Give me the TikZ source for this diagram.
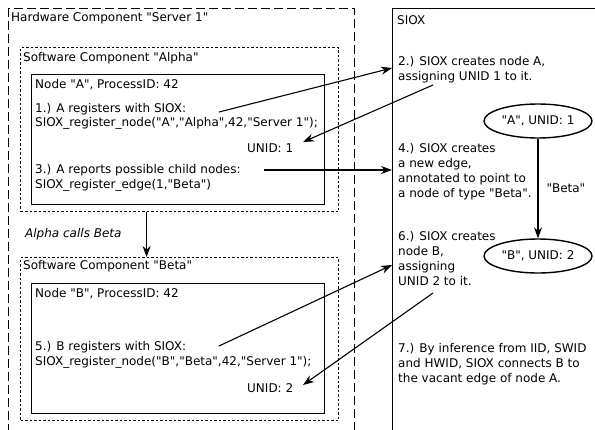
\documentclass[tikz,border=0pt]{standalone}
\usepackage{fontspec}
\setmainfont{DejaVu Sans}[Ligatures=TeXOff]
\usetikzlibrary{arrows.meta,calc,shapes.geometric}

\begin{document}
\begin{tikzpicture}[x=1pt,y=-1pt,
  font=\fontsize{12}{15}\selectfont,
  txt/.style={inner sep=0pt, anchor=base west},
  para/.style={inner sep=0pt, anchor=north west, align=left},
  hwbox/.style={draw, line width=1.4pt, dash pattern=on 9pt off 4pt, anchor=north west},
  swbox/.style={draw, line width=1.2pt, dash pattern=on 2.5pt off 2pt, anchor=north west},
  procbox/.style={draw, line width=1.4pt, anchor=north west},
  msg/.style={draw, line width=1.1pt, -{Stealth[length=11pt,width=8pt]}},
  graphnode/.style={draw, ellipse, line width=1.4pt, minimum width=108pt, minimum height=34pt, inner sep=0pt},
]
\clip (0,0) rectangle (595,429);
\fill[white] (0,0) rectangle (595,429);

% hardware, software components and processes
\node[hwbox, minimum width=346pt, minimum height=440pt] (hw) at (8,8) {};
\node[swbox, minimum width=318pt, minimum height=164pt] (alpha) at (20,47) {};
\node[procbox, minimum width=293pt, minimum height=130pt] (procA) at (31,74) {};
\node[swbox, minimum width=318pt, minimum height=163pt] (beta) at (20,257) {};
\node[procbox, minimum width=293pt, minimum height=130pt] (procB) at (31,283) {};
\node[procbox, minimum width=240pt, minimum height=440pt] (siox) at (392,8) {};

% labels of the left side
\node[txt] (hwlabel) at (11,21.5) {Hardware Component "Server 1"};
\node[txt] (alphalabel) at (23,61.5) {Software Component "Alpha"};
\node[txt] (nodeA) at (35,88) {Node "A", ProcessID: 42};
\node[txt] (reg1) at (35,112) {1.) A registers with SIOX:};
\node[txt] (call1) at (35,126.5) {SIOX\_register\_node("A","Alpha",42,"Server 1");};
\node[txt] (unid1) at (247,152) {UNID: 1};
\node[txt] (rep3) at (35,173) {3.) A reports possible child nodes:};
\node[txt] (call3) at (35,188) {SIOX\_register\_edge(1,"Beta")};
\node[txt] (calls) at (25,237) {\itshape Alpha calls Beta};
\node[txt] (betalabel) at (23,269) {Software Component "Beta"};
\node[txt] (nodeB) at (35,297) {Node "B", ProcessID: 42};
\node[txt] (reg5) at (35,350) {5.) B registers with SIOX:};
\node[txt] (call5) at (35,365) {SIOX\_register\_node("B","Beta",42,"Server 1");};
\node[txt] (unid2) at (247,392) {UNID: 2};

% SIOX side
\node[txt] (sioxlabel) at (397,24) {SIOX};
\node[para] (step2) at (398,56) {2.) SIOX creates node A,\\assigning UNID 1 to it.};
\node[para] (step4) at (398,143) {4.) SIOX creates\\a new edge,\\annotated to point to\\a node of type "Beta".};
\node[para] (step6) at (398,231) {6.) SIOX creates\\node B,\\assigning\\UNID 2 to it.};
\node[para] (step7) at (398,343) {7.) By inference from IID, SWID\\and HWID, SIOX connects B to\\the vacant edge of node A.};

\node[graphnode] (gA) at (538,121) {"A", UNID: 1};
\node[graphnode] (gB) at (538,256) {"B", UNID: 2};
\draw[msg] (gA) -- (gB) node[midway, right=8pt, inner sep=0pt] (edgelabel) {"Beta"};

% message end points
\coordinate (p1s) at (219,112);
\coordinate (p1e) at (392,68);
\coordinate (p2s) at (433,85);
\coordinate (p2e) at (303,142);
\coordinate (p3s) at (264,170);
\coordinate (p3e) at (392,170);
\coordinate (p5s) at (219,346);
\coordinate (p5e) at (392,265);
\coordinate (p6s) at (433,293);
\coordinate (p6e) at (303,385);

\draw[msg] (p1s) -- (p1e);
\draw[msg] (p2s) -- (p2e);
\draw[msg] (p3s) -- (p3e);
\draw[msg] (p5s) -- (p5e);
\draw[msg] (p6s) -- (p6e);

% call from Alpha to Beta
\draw[msg] ([xshift=-33pt]alpha.south) -- ([xshift=-33pt]beta.north);
\end{tikzpicture}
\end{document}
